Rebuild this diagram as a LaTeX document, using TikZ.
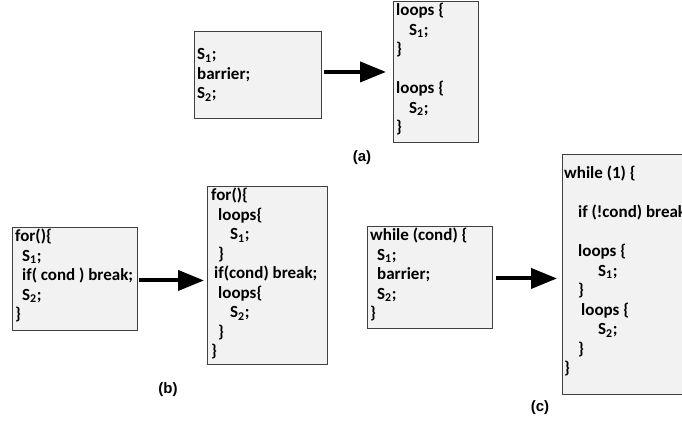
\documentclass[tikz,border=0pt]{standalone}
\usepackage{fontspec}
\setmainfont{Carlito}
\newfontfamily\labelfont{Liberation Sans}
\usetikzlibrary{arrows.meta}
\definecolor{boxfill}{RGB}{242,242,242}
\definecolor{boxline}{RGB}{64,64,64}
\tikzstyle{codebox} = [rectangle, draw=boxline, fill=boxfill, line width=0.9pt, anchor=north west, inner sep=0pt]
\tikzstyle{code} = [anchor=north west, align=left, inner sep=0pt, font=\fontsize{17}{19.5}\selectfont\bfseries]
\tikzstyle{caption} = [font=\labelfont\bfseries\fontsize{15}{18}\selectfont]
\tikzstyle{arrow} = [line width=4pt, -{Triangle[length=26pt,width=20pt]}]
\newcommand{\ind}[1]{\hspace*{#1pt}}
\begin{document}
\begin{tikzpicture}[x=1pt,y=-1pt]
	\useasboundingbox (0,0) rectangle (682,421);
	% (a)
	\node (a1) [codebox, minimum width=127pt, minimum height=87pt] at (194,31) {};
	\node (a1t) [code, anchor=west] at ([xshift=3]a1.west) {S\textsubscript{1};\\barrier;\\S\textsubscript{2};};
	\node (a2) [codebox, minimum width=85pt, minimum height=141pt] at (393,1) {};
	\node (a2t) [code] at ([shift={(3,2)}]a2.north west) {loops \{\\\ind{13}S\textsubscript{1};\\\}\\[19.5pt]loops \{\\\ind{13}S\textsubscript{2};\\\}};
	\draw [arrow, shorten <=2pt, shorten >=7pt] ([yshift=3]a1.east) -- ([yshift=3]a1.east -| a2.west);
	\node (capa) [caption] at (362,158) {(a)};
	% (b)
	\node (b1) [codebox, minimum width=125pt, minimum height=103pt] at (12,227) {};
	\node (b1t) [code] at ([shift={(3,2)}]b1.north west) {for()\{\\\ind{7}S\textsubscript{1};\\\ind{7}if( cond ) break;\\\ind{7}S\textsubscript{2};\\\}};
	\node (b2) [codebox, minimum width=120pt, minimum height=178pt] at (207,186) {};
	\node (b2t) [code] at ([shift={(4,2)}]b2.north west) {for()\{\\\ind{7}loops\{\\\ind{19}S\textsubscript{1};\\\ind{7}\}\\\ind{3}if(cond) break;\\\ind{7}loops\{\\\ind{19}S\textsubscript{2};\\\ind{7}\}\\\}};
	\draw [arrow, shorten <=1pt, shorten >=3pt] ([yshift=-1.5]b1.east) -- ([yshift=-1.5]b1.east -| b2.west);
	\node (capb) [caption] at (168,390) {(b)};
	% (c)
	\node (c1) [codebox, minimum width=125pt, minimum height=102pt] at (367,226) {};
	\node (c1t) [code] at ([shift={(3,2)}]c1.north west) {while (cond) \{\\\ind{7}S\textsubscript{1};\\\ind{7}barrier;\\\ind{7}S\textsubscript{2};\\\}};
	\node (c2) [codebox, minimum width=140pt, minimum height=240pt] at (562,154) {};
	\node (c2t) [code] at ([shift={(2,12)}]c2.north west) {while (1) \{\\[19.5pt]\ind{14}if (!cond) break;\\[19.5pt]\ind{14}loops \{\\\ind{34}S\textsubscript{1};\\\ind{14}\}\\\ind{17}loops \{\\\ind{34}S\textsubscript{2};\\\ind{14}\}\\\}};
	\draw [arrow, shorten <=3pt, shorten >=5pt] ([yshift=-1]c1.east) -- ([yshift=-1]c1.east -| c2.west);
	\node (capc) [caption] at (540,408) {(c)};
\end{tikzpicture}
\end{document}
